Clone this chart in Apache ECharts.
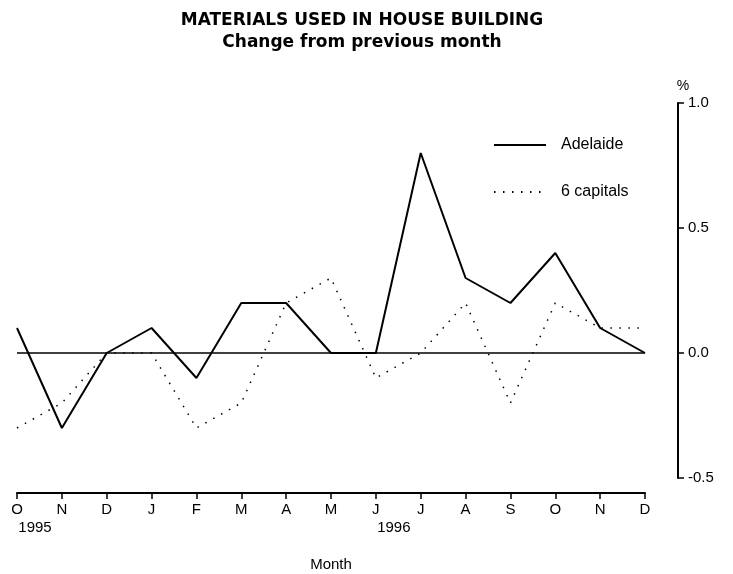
<!DOCTYPE html>
<html>
<head>
<meta charset="utf-8">
<script src="https://cdn.jsdelivr.net/npm/echarts@6/dist/echarts.min.js"></script>
<style>
  html, body { margin: 0; padding: 0; background: #fff; }
  #chart { width: 733px; height: 574px; }
</style>
</head>
<body>
<div id="chart"></div>
<script>
// 月份（1995年10月 - 1996年12月）
const months = ['O', 'N', 'D', 'J', 'F', 'M', 'A', 'M', 'J', 'J', 'A', 'S', 'O', 'N', 'D']
// 年份标签，按月份下标
const yearLabels = { 0: '1995', 8: '1996' }

// 数据
const adelaide = [0.1, -0.3, 0.0, 0.1, -0.1, 0.2, 0.2, 0.0, 0.0, 0.8, 0.3, 0.2, 0.4, 0.1, 0.0]
const sixCapitals = [-0.3, -0.2, 0.0, 0.0, -0.3, -0.2, 0.2, 0.3, -0.1, 0.0, 0.2, -0.2, 0.2, 0.1, 0.1]

const yTicks = [-0.5, 0.0, 0.5, 1.0]

const font = 'Arial, "Liberation Sans", Helvetica, sans-serif'
const titleFont = '"DejaVu Sans", Arial, sans-serif'

const chart = echarts.init(document.getElementById('chart'))

const option = {
  animation: false,
  backgroundColor: '#fff',
  textStyle: { fontFamily: font, color: '#000' },
  title: {
    text: 'MATERIALS USED IN HOUSE BUILDING',
    subtext: 'Change from previous month',
    left: 357,
    textAlign: 'center',
    top: 7,
    itemGap: 5,
    textStyle: { fontFamily: titleFont, fontSize: 17, fontWeight: 'bold', color: '#000' },
    subtextStyle: { fontFamily: titleFont, fontSize: 17, fontWeight: 'bold', color: '#000' }
  },
  legend: {
    orient: 'vertical',
    left: 488,
    top: 132,
    itemWidth: 52,
    itemHeight: 14,
    itemGap: 31,
    itemStyle: { opacity: 0 },
    textStyle: { fontFamily: font, fontSize: 16, color: '#000', padding: [0, 0, 0, 10] },
    data: ['Adelaide', '6 capitals']
  },
  grid: {
    left: 17,
    right: 88,
    top: 103,
    bottom: 96,
    outerBoundsMode: 'none'
  },
  xAxis: {
    type: 'category',
    data: months,
    boundaryGap: false,
    offset: 15,
    name: 'Month',
    nameLocation: 'middle',
    nameGap: 64,
    nameTextStyle: { fontFamily: font, fontSize: 15, color: '#000' },
    axisLine: { onZero: false, lineStyle: { color: '#000', width: 2 } },
    axisTick: { alignWithLabel: true, length: 6, lineStyle: { color: '#000', width: 1.5 } },
    axisLabel: {
      interval: 0,
      margin: 8,
      formatter: (v, i) => yearLabels[i] ? `{m|${v}}\n{y|${yearLabels[i]}}` : `{m|${v}}`,
      rich: {
        m: { fontFamily: font, fontSize: 15, color: '#000', lineHeight: 18 },
        y: { fontFamily: font, fontSize: 15, color: '#000', lineHeight: 18, padding: [0, 0, 0, 36] }
      }
    },
    splitLine: { show: false }
  },
  yAxis: {
    type: 'value',
    position: 'right',
    offset: 33,
    min: yTicks[0],
    max: yTicks[yTicks.length - 1],
    interval: 0.5,
    name: '%',
    nameLocation: 'end',
    nameGap: 10,
    nameTextStyle: { fontFamily: font, fontSize: 14, color: '#000', padding: [0, 0, 0, 10] },
    axisLine: { show: true, lineStyle: { color: '#000', width: 2 } },
    axisTick: { show: true, length: 6, lineStyle: { color: '#000', width: 1.5 } },
    axisLabel: {
      margin: 10,
      fontFamily: font,
      fontSize: 15,
      color: '#000',
      formatter: v => v.toFixed(1)
    },
    splitLine: { show: false }
  },
  series: [
    {
      name: 'Adelaide',
      type: 'line',
      data: adelaide,
      symbol: 'none',
      lineStyle: { color: '#000', width: 2 },
      itemStyle: { color: '#000' },
      markLine: {
        silent: true,
        symbol: 'none',
        label: { show: false },
        lineStyle: { color: '#000', width: 1.5, type: 'solid' },
        data: [{ yAxis: 0 }]
      },
      z: 3
    },
    {
      name: '6 capitals',
      type: 'line',
      data: sixCapitals,
      symbol: 'none',
      lineStyle: { color: '#000', width: 1.5, type: [1.5, 7.5] },
      itemStyle: { color: '#000' },
      z: 2
    }
  ]
}

chart.setOption(option)
</script>
</body>
</html>
